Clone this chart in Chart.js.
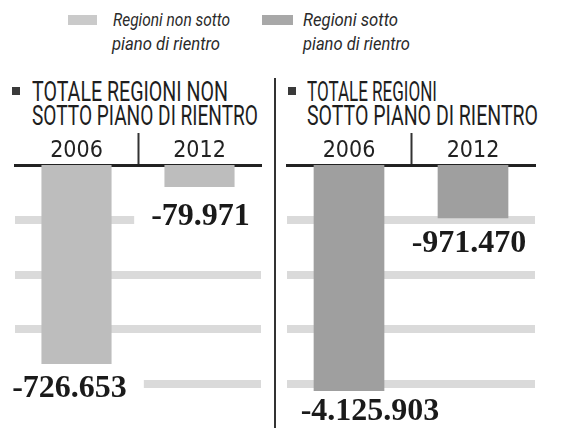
<!DOCTYPE html>
<html>
<head>
<meta charset="utf-8">
<script src="https://cdn.jsdelivr.net/npm/chart.js@4.4.1/dist/chart.umd.min.js"></script>
<style>
  html, body { margin: 0; padding: 0; background: #fff; }
  #page { position: relative; width: 579px; height: 428px; overflow: hidden; }
  canvas { position: absolute; }
  .txt { position: absolute; white-space: nowrap; transform-origin: left top; color: #1e1e1e; }
  .head { font: 400 28px/24px Roboto, "Liberation Sans Narrow", sans-serif; }
  .leg { font: italic 400 18px/24px Roboto, "Liberation Sans Narrow", sans-serif; color: #2a2a2a; }
  .sw { position: absolute; height: 10px; }
  .sq { position: absolute; width: 8px; height: 8px; background: #3a3a3a; }
  #divider { position: absolute; left: 274px; top: 78px; width: 2px; height: 350px; background: #333; }
</style>
</head>
<body>
<div id="page">
  <div class="sw" style="left:68px;top:15px;width:29px;background:#cacaca"></div>
  <span class="txt leg" id="leg1a" style="left:113px;top:8px">Regioni non sotto</span>
  <span class="txt leg" id="leg1b" style="left:112px;top:32px">piano di rientro</span>
  <div class="sw" style="left:262px;top:15px;width:31px;background:#a8a8a8"></div>
  <span class="txt leg" id="leg2a" style="left:303px;top:8px">Regioni sotto</span>
  <span class="txt leg" id="leg2b" style="left:303px;top:32px">piano di rientro</span>

  <div class="sq" style="left:12px;top:87px"></div>
  <span class="txt head" id="h1a" style="left:32px;top:80px">TOTALE REGIONI NON</span>
  <span class="txt head" id="h1b" style="left:32px;top:104px">SOTTO PIANO DI RIENTRO</span>
  <div class="sq" style="left:288px;top:87px"></div>
  <span class="txt head" id="h2a" style="left:307px;top:80px">TOTALE REGIONI</span>
  <span class="txt head" id="h2b" style="left:307px;top:104px">SOTTO PIANO DI RIENTRO</span>

  <div id="divider"></div>
  <canvas id="chartLeft" width="275" height="300" style="left:0;top:128px"></canvas>
  <canvas id="chartRight" width="303" height="300" style="left:276px;top:128px"></canvas>
</div>
<script>
const years = ['2006', '2012'];
const nonPianoRientro = [-726653, -79971];
const sottoPianoRientro = [-4125903, -971470];
const gridLeft = [-200000, -400000, -600000, -800000];
const gridRight = [-1000000, -2000000, -3000000, -4000000];

const fmt = new Intl.NumberFormat('it-IT');

// squeeze the sans into a condensed look
function fitText(id, width) {
    const el = document.getElementById(id);
    const w = el.getBoundingClientRect().width;
    el.style.transform = `scaleX(${width / w})`;
}

const valueLabels = {
    id: 'valueLabels',
    afterDatasetsDraw(chart, args, opts) {
        const ctx = chart.ctx;
        const meta = chart.getDatasetMeta(0);
        ctx.save();
        ctx.font = 'bold 32px "Liberation Serif", "DejaVu Serif", serif';
        ctx.textAlign = 'center';
        ctx.textBaseline = 'middle';
        meta.data.forEach((bar, i) => {
            const text = fmt.format(chart.data.datasets[0].data[i]);
            const x = bar.x + opts.nudge[i][0];
            const y = bar.y + opts.nudge[i][1];
            const w = ctx.measureText(text).width;
            // white box knocks out the grid bands behind the number
            ctx.fillStyle = '#fff';
            ctx.fillRect(x - w / 2 - 17, y - 13, w + 34, 26);
            ctx.fillStyle = '#1a1a1a';
            ctx.fillText(text, x, y);
        });
        ctx.restore();
    }
};

function makePanel(canvasId, values, color, min, gridValues, padding, nudge) {
    const ctx = document.getElementById(canvasId).getContext('2d');
    return new Chart(ctx, {
        type: 'bar',
        data: {
            labels: years,
            datasets: [{
                data: values,
                backgroundColor: color,
                borderWidth: 0,
                categoryPercentage: 1,
                barPercentage: 0.57
            }]
        },
        options: {
            responsive: false,
            animation: false,
            layout: { padding: padding },
            plugins: {
                legend: { display: false },
                tooltip: { enabled: false },
                valueLabels: { nudge: nudge }
            },
            scales: {
                x: {
                    position: 'top',
                    afterFit: (scale) => { scale.height = 37; },
                    border: { display: true, color: '#222', width: 3 },
                    grid: {
                        drawOnChartArea: false,
                        drawTicks: true,
                        tickLength: 32,
                        tickWidth: 2,
                        tickColor: (c) => c.index === 1 ? '#333' : 'rgba(0,0,0,0)'
                    },
                    ticks: {
                        padding: -32,
                        color: '#222',
                        font: { family: '"Liberation Sans Narrow", "DejaVu Sans Condensed", sans-serif', size: 23 }
                    }
                },
                y: {
                    min: min,
                    max: 0,
                    afterBuildTicks: (scale) => {
                        scale.ticks = gridValues.map(v => ({ value: v }));
                    },
                    border: { display: false },
                    ticks: { display: false },
                    grid: {
                        drawTicks: false,
                        lineWidth: 8,
                        color: '#dadada'
                    }
                }
            }
        },
        plugins: [valueLabels]
    });
}

makePanel('chartLeft', nonPianoRientro, '#bdbdbd', -960000, gridLeft,
    { left: 15, right: 14, top: 0, bottom: 0 }, [[-7, 25], [1, 30]]);
makePanel('chartRight', sottoPianoRientro, '#9f9f9f', -4800000, gridRight,
    { left: 11, right: 44, top: 0, bottom: 0 }, [[21, 21], [-4, 26]]);

fitText('leg1a', 117);
fitText('leg1b', 108);
fitText('leg2a', 95);
fitText('leg2b', 107);
fitText('h1a', 196);
fitText('h1b', 226);
fitText('h2a', 130);
fitText('h2b', 231);
</script>
</body>
</html>
